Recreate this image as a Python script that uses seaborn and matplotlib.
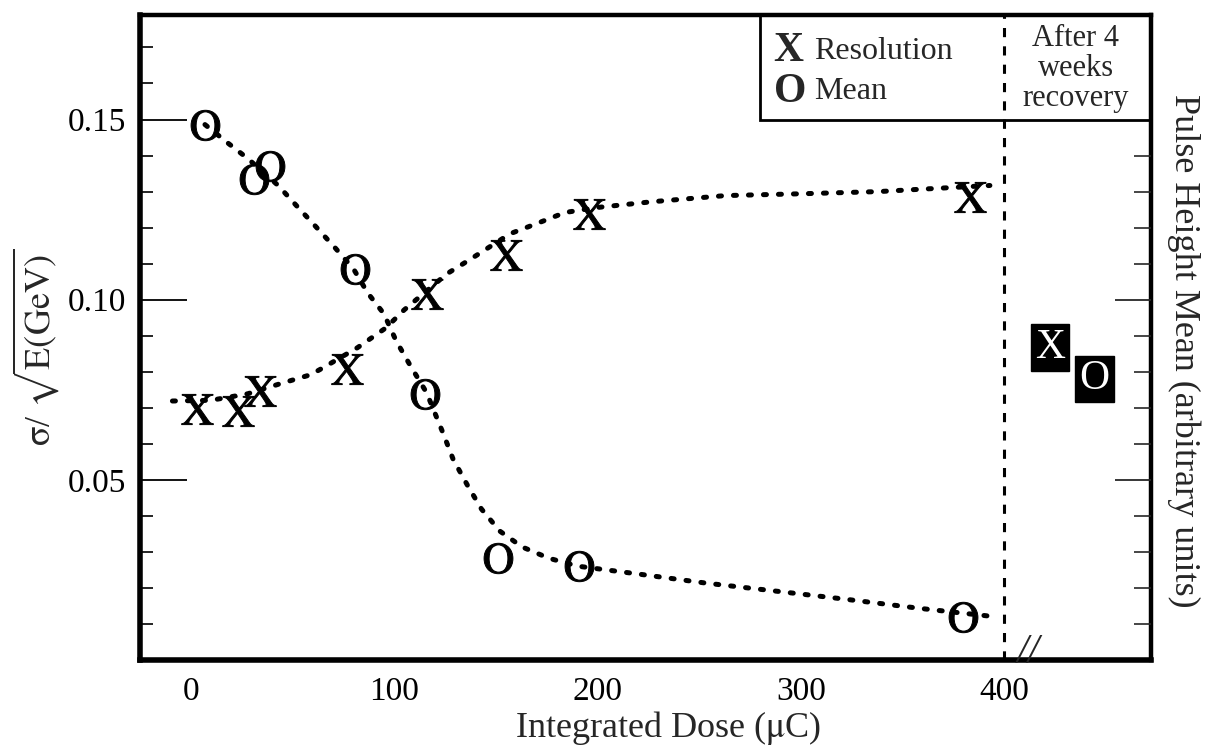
import numpy as np
import pandas as pd
import matplotlib
matplotlib.use("Agg")
import matplotlib.pyplot as plt
import seaborn as sns
from matplotlib.patches import Rectangle

res_dose = [3, 23, 34, 77, 116, 155, 196, 383]
res_val = [0.0697, 0.0692, 0.0747, 0.0808, 0.1017, 0.1125, 0.1239, 0.1286]

mean_dose = [7, 31, 39, 81, 115, 151, 191, 380]
mean_val = [0.1486, 0.1336, 0.1370, 0.1086, 0.0739, 0.0283, 0.0261, 0.0120]

# hand-drawn trend curves
res_fit_x = [-9, 10, 28, 44, 59, 65, 82, 96, 105, 126, 138, 157, 170, 184,
             200, 227, 263, 300, 338, 357, 393]
res_fit_y = [0.0719, 0.0721, 0.0739, 0.0767, 0.0792, 0.0811, 0.0867, 0.0922,
             0.0972, 0.1072, 0.1114, 0.1183, 0.1211, 0.1242, 0.1256, 0.1272,
             0.1289, 0.1294, 0.1300, 0.1306, 0.1317]

mean_fit_x = [7, 18, 28, 43, 52, 61, 71, 80, 87, 95, 101, 108, 116, 124, 129,
              136, 143, 152, 163, 176, 190, 220, 253, 287, 322, 358, 393]
mean_fit_y = [0.1486, 0.1436, 0.1392, 0.1317, 0.1261, 0.1206, 0.1144, 0.1086,
              0.1019, 0.0961, 0.0886, 0.0817, 0.0742, 0.0631, 0.0558, 0.0486,
              0.0419, 0.0358, 0.0314, 0.0283, 0.0261, 0.0239, 0.0214, 0.0192,
              0.0169, 0.0144, 0.0122]

# after 4 weeks recovery
rec_x = [422.6, 444.5]
rec_y = [0.0867, 0.0780]
rec_labels = ["X", "O"]

x_ticks = [0, 100, 200, 300, 400]
y_ticks = [0.05, 0.10, 0.15]
y_ticklabels = ["0.05", "0.10", "0.15"]

sns.set_theme(style="white")
plt.rcParams["font.family"] = ["Liberation Serif", "DejaVu Serif"]
plt.rcParams["mathtext.fontset"] = "stix"

fig = plt.figure(figsize=(12.06, 7.51), dpi=100)
ax = fig.add_axes([0.116, 0.121, 0.838, 0.859])

dotted = (0, (0.6, 2.4))
res_fit = pd.DataFrame({"x": res_fit_x, "y": res_fit_y})
mean_fit = pd.DataFrame({"x": mean_fit_x, "y": mean_fit_y})
sns.lineplot(data=res_fit, x="x", y="y", ax=ax, color="black", lw=3.6,
             linestyle=dotted, sort=False, estimator=None,
             dash_capstyle="round")
sns.lineplot(data=mean_fit, x="x", y="y", ax=ax, color="black", lw=3.6,
             linestyle=dotted, sort=False, estimator=None,
             dash_capstyle="round")

res_df = pd.DataFrame({"dose": res_dose, "val": res_val})
mean_df = pd.DataFrame({"dose": mean_dose, "val": mean_val})
sns.scatterplot(data=res_df, x="dose", y="val", ax=ax, marker=r"$\mathrm{X}$",
                s=520, color="black", edgecolor="black", linewidth=0.7,
                zorder=5)
sns.scatterplot(data=mean_df, x="dose", y="val", ax=ax, marker=r"$\mathrm{O}$",
                s=480, color="black", edgecolor="black", linewidth=0.7,
                zorder=5)

for xv, yv, lab in zip(rec_x, rec_y, rec_labels):
    ax.text(xv, yv, lab, fontsize=30, color="white", ha="center", va="center",
            bbox=dict(boxstyle="square,pad=0.1", fc="black", ec="black"))

# vertical dashed separator at 400
ax.axvline(400, color="black", lw=2.2, linestyle=(0, (3, 3)), zorder=3)

ax.set_xlim(-25, 472)
ax.set_ylim(0, 0.179)

ax.set_xticks(x_ticks)
ax.set_xticklabels([str(t) for t in x_ticks])
ax.set_xticks(np.arange(-20, 401, 20), minor=True)
ax.set_yticks(y_ticks)
ax.set_yticklabels(y_ticklabels)
ax.set_yticks(np.arange(0.01, 0.171, 0.01), minor=True)

ax.tick_params(axis="both", which="major", direction="in", length=34,
               width=1.3, labelsize=24, color="black", labelcolor="black")
ax.tick_params(axis="x", which="major", pad=12)
ax.tick_params(axis="y", which="major", pad=10)
ax.tick_params(axis="both", which="minor", direction="in", length=9,
               width=1.2, color="black")
ax.tick_params(axis="x", which="minor", length=6)

for side, w in [("left", 4.0), ("bottom", 4.0), ("top", 3.2), ("right", 3.2)]:
    ax.spines[side].set_linewidth(w)
    ax.spines[side].set_color("black")

ax.set_xlabel(r"Integrated Dose ($\mathrm{\mu}$C)", fontsize=26)
ax.xaxis.set_label_coords(0.523, -0.076)
ax.set_ylabel(r"$\mathrm{\sigma}$/ $\sqrt{\mathrm{E(GeV)}}$", fontsize=26)
ax.yaxis.set_label_coords(-0.078, 0.485)

# right-hand axis: pulse height mean, arbitrary units
ax2 = ax.twinx()
ax2.set_ylim(ax.get_ylim())
ax2.set_yticks([0.05, 0.10])
ax2.set_yticklabels([])
ax2.set_yticks(np.arange(0.01, 0.141, 0.01), minor=True)
ax2.tick_params(axis="y", which="major", direction="in", length=26, width=1.3)
ax2.tick_params(axis="y", which="minor", direction="in", length=12, width=1.2)
for side in ax2.spines:
    ax2.spines[side].set_visible(False)
ax2.set_ylabel("Pulse Height Mean (arbitrary units)", fontsize=26,
               rotation=-90)
ax2.yaxis.set_label_coords(1.049, 0.48)

# legend box in the top right corner
ax.add_patch(Rectangle((0.614, 0.837), 0.386, 0.163, transform=ax.transAxes,
                       fill=False, ec="black", lw=2.0, zorder=6, clip_on=False))
ax.text(0.627, 0.944, "X", transform=ax.transAxes, fontsize=30,
        fontweight="bold", va="center", ha="left")
ax.text(0.667, 0.944, "Resolution", transform=ax.transAxes, fontsize=23,
        va="center", ha="left")
ax.text(0.627, 0.880, "O", transform=ax.transAxes, fontsize=30,
        fontweight="bold", va="center", ha="left")
ax.text(0.667, 0.882, "Mean", transform=ax.transAxes, fontsize=23,
        va="center", ha="left")
ax.text(0.926, 0.917, "After 4\nweeks\nrecovery", transform=ax.transAxes,
        fontsize=22, va="center", ha="center", linespacing=1.05)

# axis break mark
ax.text(412, 0.002, "//", fontsize=30, fontstyle="italic",
        ha="center", va="center", clip_on=False, zorder=7)

fig.savefig("out.png", dpi=100)
